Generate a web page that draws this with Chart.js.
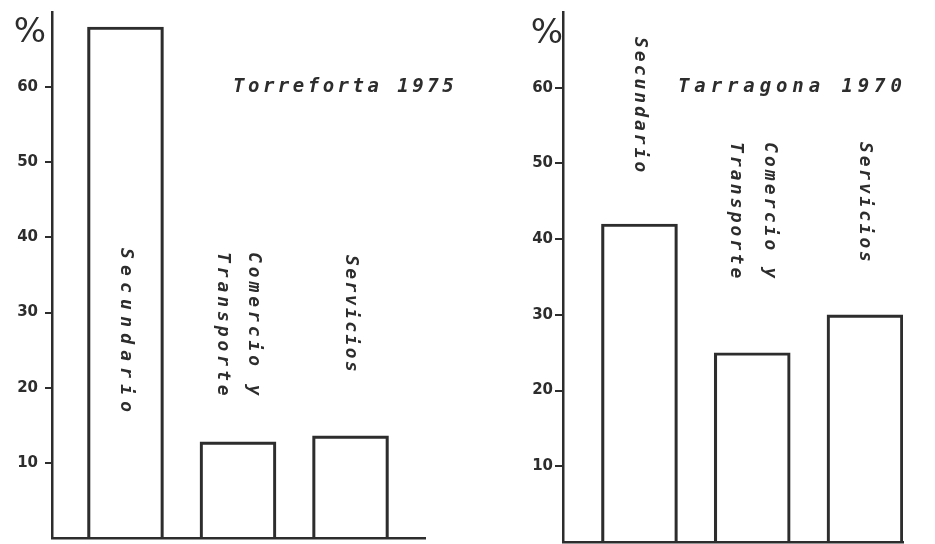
<!DOCTYPE html>
<html>
<head>
<meta charset="utf-8">
<script src="https://cdn.jsdelivr.net/npm/chart.js@4"></script>
<style>
  html, body { margin: 0; padding: 0; background: #ffffff; }
  canvas { position: absolute; top: 0; }
  #left { left: 0; }
  #right { left: 467px; }
</style>
</head>
<body>
<canvas id="left" width="467" height="544"></canvas>
<canvas id="right" width="468" height="544"></canvas>
<script>
// datos
const categories = [['Secundario'], ['Comercio y', 'Transporte'], ['Servicios']];
const torrefortaValues = [68, 12.8, 13.6];
const tarragonaValues = [42, 25, 30];
const yTicks = [10, 20, 30, 40, 50, 60];
const torrefortaTitle = 'Torreforta 1975';
const tarragonaTitle = 'Tarragona 1970';
const unitLabel = '%';

const ink = '#2d2d2d';

// textos girados, titulo y simbolo de %
const textPlugin = {
    id: 'textos',
    afterDraw(chart, args, opts) {
        const ctx = chart.ctx;
        const meta = chart.getDatasetMeta(0);
        ctx.save();
        ctx.fillStyle = ink;

        // simbolo %
        ctx.font = '34px "DejaVu Sans"';
        ctx.textAlign = 'right';
        ctx.textBaseline = 'alphabetic';
        ctx.fillText(unitLabel, opts.percent.x, opts.percent.y);

        // titulo
        ctx.font = 'italic bold 19px "DejaVu Sans Mono"';
        ctx.textAlign = 'left';
        ctx.letterSpacing = opts.title.spacing + 'px';
        ctx.fillText(opts.title.text, opts.title.x, opts.title.y);

        // etiquetas de las barras
        ctx.font = 'italic bold 18px "DejaVu Sans Mono"';
        ctx.textBaseline = 'middle';
        categories.forEach(function(lines, i) {
            const item = opts.items[i];
            const bar = meta.data[i];
            ctx.letterSpacing = item.spacing + 'px';
            lines.forEach(function(line, j) {
                const off = (j - (lines.length - 1) / 2) * opts.lineGap;
                ctx.save();
                ctx.translate(bar.x, item.top);
                ctx.rotate(Math.PI / 2);
                ctx.fillText(line, 0, off);
                ctx.restore();
            });
        });
        ctx.restore();
    }
};

function makeConfig(values, xMin, xMax, axisWidth, tickLen, tickPad, padding, texts) {
    return {
        type: 'bar',
        data: {
            datasets: [{
                data: values.map(function(v, i) { return { x: i + 1, y: v }; }),
                backgroundColor: 'rgba(255,255,255,0)',
                borderColor: ink,
                borderWidth: 2.5,
                barThickness: 76
            }]
        },
        options: {
            responsive: false,
            animation: false,
            layout: { padding: padding },
            plugins: {
                legend: { display: false },
                tooltip: { enabled: false },
                textos: texts
            },
            scales: {
                x: {
                    type: 'linear',
                    offset: false,
                    min: xMin,
                    max: xMax,
                    grid: { display: false, drawTicks: false, offset: false },
                    ticks: { display: false },
                    border: { display: true, color: ink, width: 2.5 },
                    afterFit: function(s) {
                        s.height = 0;
                        s.paddingLeft = 0;
                        s.paddingRight = 0;
                    }
                },
                y: {
                    min: 0,
                    max: 70,
                    afterBuildTicks: function(s) {
                        s.ticks = yTicks.map(function(v) { return { value: v }; });
                    },
                    grid: {
                        drawOnChartArea: false,
                        drawTicks: true,
                        tickLength: tickLen,
                        lineWidth: 2,
                        color: ink
                    },
                    border: { display: true, color: ink, width: 2.5 },
                    ticks: {
                        padding: tickPad,
                        color: ink,
                        font: { family: 'DejaVu Sans', size: 15, weight: 'bold' }
                    },
                    afterFit: function(s) {
                        s.width = axisWidth;
                        s.paddingTop = 0;
                        s.paddingBottom = 0;
                    }
                }
            }
        },
        plugins: [textPlugin]
    };
}

new Chart(document.getElementById('left'), makeConfig(
    torrefortaValues, 0.347, 3.662, 52, 7, 7,
    { top: 12, bottom: 6, left: 0, right: 42 },
    {
        percent: { x: 46, y: 42 },
        title: { text: torrefortaTitle, x: 233, y: 92, spacing: 3.5 },
        lineGap: 31,
        items: [
            { top: 248, spacing: 6.2 },
            { top: 252, spacing: 3.9 },
            { top: 255, spacing: 2.4 }
        ]
    }
));

new Chart(document.getElementById('right'), makeConfig(
    tarragonaValues, 0.322, 3.337, 96, 8, 2,
    { top: 12, bottom: 2, left: 0, right: 32 },
    {
        percent: { x: 96, y: 43 },
        title: { text: tarragonaTitle, x: 211, y: 92, spacing: 4.9 },
        lineGap: 34,
        items: [
            { top: 37, spacing: 3 },
            { top: 142, spacing: 3.1 },
            { top: 142, spacing: 2.8 }
        ]
    }
));
</script>
</body>
</html>
